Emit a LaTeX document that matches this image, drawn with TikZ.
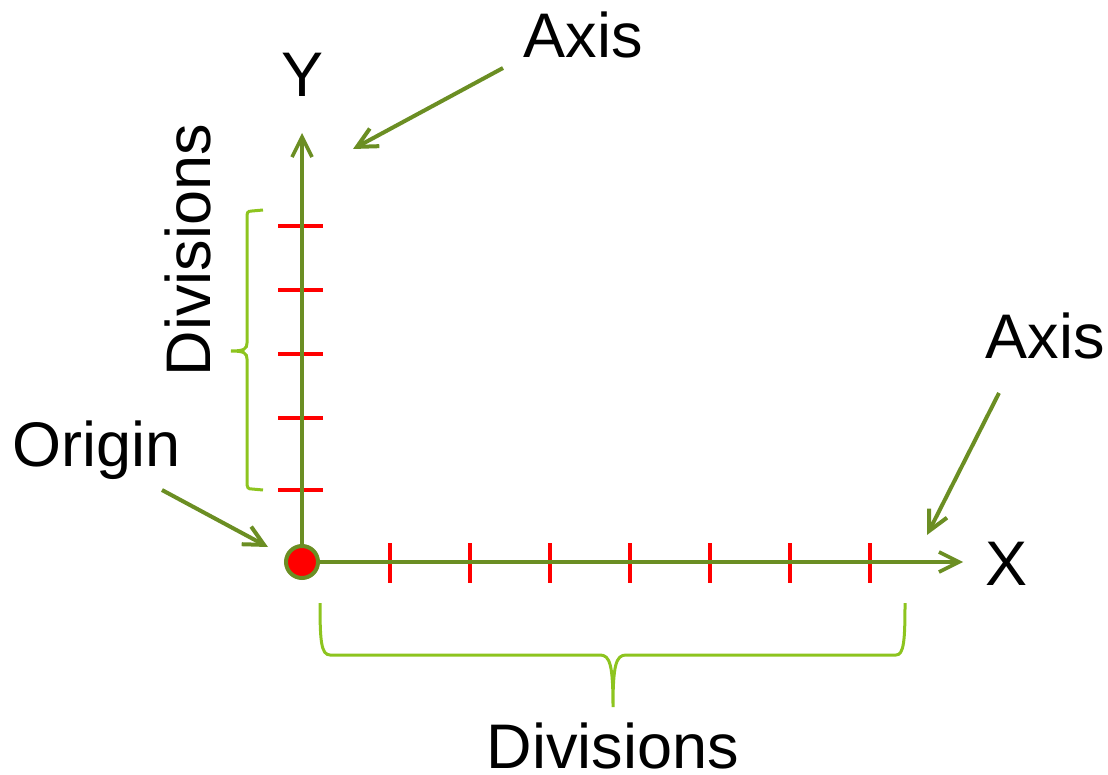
\documentclass[tikz,border=0pt]{standalone}
\usepackage{fontspec}
\setmainfont{Liberation Sans}
\usetikzlibrary{arrows.meta}
\definecolor{caxis}{HTML}{6B8E23}
\definecolor{cbrace}{HTML}{8DC41F}
\definecolor{ctick}{HTML}{FF0000}
\tikzset{
  axisline/.style={draw=caxis, line width=1.8pt,
                   -{Straight Barb[length=10pt,width=10pt,line width=1.8pt]}},
  callout/.style={draw=caxis, line width=2pt,
                  -{Straight Barb[length=10pt,width=10pt,line width=2pt]}},
  tickmark/.style={draw=ctick, line width=1.6pt},
  bracket/.style={draw=cbrace, line width=1.5pt},
  lbl/.style={inner sep=0pt, anchor=base, font=\fontsize{31.5pt}{36pt}\selectfont},
  dot/.style={circle, fill=ctick, draw=caxis, line width=2pt,
              minimum size=16pt, inner sep=0pt}
}
\begin{document}
\begin{tikzpicture}[x=0.5pt,y=-0.5pt]
\useasboundingbox (0,0) rectangle (1108,775);
% axes
\node[dot] (o) at (302,562) {};
\coordinate (xend) at (963,562);
\coordinate (yend) at (302,133);
\foreach \tx in {390,470,550,630,710,790,870}
  \draw[tickmark] (\tx,543) -- (\tx,583);
\foreach \ty in {226,290,354,418,490}
  \draw[tickmark] (278,\ty) -- (323,\ty);
\draw[axisline] (o.east) -- (xend);
\draw[axisline] (o.north) -- (yend);
% labels
\node[lbl] (ylab) at (303,97) {Y};
\node[lbl] (xlab) at (1006,585) {X};
\node[lbl] (axtop) at (583,58) {Axis};
\node[lbl] (axright) at (1045,358) {Axis};
\node[lbl] (orig) at (97,466) {Origin};
\node[lbl] (divx) at (613,768) {Divisions};
\node[lbl, rotate=90] (divy) at (210,250) {Divisions};
% callouts
\coordinate (t1) at (503,68);   \coordinate (h1) at (353,149);
\coordinate (t2) at (999,393);  \coordinate (h2) at (927,535);
\coordinate (t3) at (162,490);  \coordinate (h3) at (268,547);
\draw[callout] (t1) -- (h1);
\draw[callout] (t2) -- (h2);
\draw[callout] (t3) -- (h3);
% braces
\draw[bracket] (263,210) -- (252,211) .. controls (247,211) and (247,213) .. (247,218)
  -- (247,343) .. controls (247,349) and (244,351) .. (231,351)
  .. controls (244,351) and (247,353) .. (247,359)
  -- (247,482) .. controls (247,488) and (248,489) .. (252,489) -- (263,490);
\draw[bracket] (320,603) .. controls (320,640) and (321,655) .. (330,655)
  -- (600,655) .. controls (610,655) and (613,665) .. (613,707)
  .. controls (613,665) and (616,655) .. (626,655)
  -- (896,655) .. controls (904,655) and (905,640) .. (905,603);
\end{tikzpicture}
\end{document}
